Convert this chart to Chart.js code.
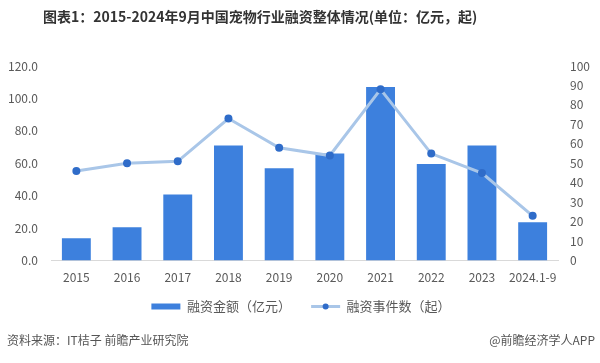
<!DOCTYPE html>
<html>
<head>
<meta charset="utf-8">
<script src="https://cdn.jsdelivr.net/npm/chart.js@4.4.0/dist/chart.umd.min.js"></script>
<style>
  body { margin: 0; background: #fff; }
  #wrap { position: relative; width: 600px; height: 363px; font-family: "Noto Sans CJK SC", sans-serif; }
  #title { position: absolute; left: 43px; top: 6px; font-size: 14px; font-weight: bold; color: #333; white-space: nowrap; }
  #source { position: absolute; left: 7px; top: 331px; font-size: 12px; color: #555; }
  #brand { position: absolute; right: 5px; top: 331px; font-size: 12px; color: #555; }
  #box { position: absolute; left: 0; top: 0; width: 600px; height: 363px; }
</style>
</head>
<body>
<div id="wrap">
  <div id="box"><canvas id="finChart"></canvas></div>
  <div id="title">图表1：2015-2024年9月中国宠物行业融资整体情况(单位：亿元，起)</div>
  <div id="source">资料来源：IT桔子 前瞻产业研究院</div>
  <div id="brand">@前瞻经济学人APP</div>
</div>
<script>
// ------- data -------
const years = ['2015', '2016', '2017', '2018', '2019', '2020', '2021', '2022', '2023', '2024.1-9'];
const amount = [13.8, 20.6, 40.8, 71.0, 57.0, 66.0, 107.0, 59.6, 71.0, 23.6];   // 亿元
const events = [46, 50, 51, 73, 58, 54, 88, 55, 45, 23];                          // 起

const fontFamily = '"Noto Sans CJK SC", sans-serif';
Chart.defaults.font.family = fontFamily;
Chart.defaults.color = '#595959';

const data = {
  labels: years,
  datasets: [
    {
      type: 'line',
      label: '融资事件数（起）',
      data: events,
      yAxisID: 'y1',
      borderColor: '#a9c6e8',
      backgroundColor: '#2f6cc9',
      borderWidth: 3,
      pointRadius: 4,
      pointBorderWidth: 0,
      pointBackgroundColor: '#2f6cc9',
      order: 0
    },
    {
      type: 'bar',
      label: '融资金额（亿元）',
      data: amount,
      yAxisID: 'y',
      backgroundColor: '#3d80dd',
      barPercentage: 0.57,
      categoryPercentage: 1.0,
      order: 1
    }
  ]
};

const config = {
  data: data,
  options: {
    responsive: true,
    maintainAspectRatio: false,
    animation: false,
    layout: {
      padding: { top: 66, left: 8, right: 6, bottom: 40 }
    },
    scales: {
      x: {
        grid: { display: false, drawTicks: false },
        border: { color: '#d9d9d9', width: 1 },
        ticks: { padding: 10, maxRotation: 0, minRotation: 0, autoSkip: false, font: { size: 12 } }
      },
      y: {
        position: 'left',
        min: 0,
        max: 120,
        grid: { display: false, drawTicks: false },
        border: { display: false },
        ticks: {
          stepSize: 20,
          padding: 13,
          autoSkip: false,
          font: { size: 12 },
          callback: v => v.toFixed(1)
        },
        afterFit: function (scale) { scale.width = 43; }
      },
      y1: {
        position: 'right',
        min: 0,
        max: 100,
        grid: { display: false, drawTicks: false },
        border: { display: false },
        ticks: { stepSize: 10, padding: 12, autoSkip: false, font: { size: 12 } },
        afterFit: function (scale) { scale.width = 36; }
      }
    },
    plugins: {
      legend: {
        position: 'bottom',
        reverse: true,
        labels: {
          font: { size: 13 },
          color: '#595959',
          padding: 5,
          boxWidth: 29,
          boxHeight: 6,
          generateLabels: function (chart) {
            return chart.data.datasets.map(function (ds, i) {
              const isBar = ds.type === 'bar';
              return {
                // trailing spaces widen the gap between the two items
                text: isBar ? ds.label + '\u3000   ' : ds.label,
                datasetIndex: i,
                fillStyle: isBar ? ds.backgroundColor : 'rgba(0,0,0,0)',
                strokeStyle: isBar ? ds.backgroundColor : 'rgba(0,0,0,0)',
                lineWidth: 0,
                fontColor: '#595959'
              };
            });
          }
        }
      },
      tooltip: { enabled: false }
    }
  }
};

// legend marker for the line: line with a dot in the middle
const legendLine = {
  id: 'legendLine',
  afterDraw(chart) {
    const lg = chart.legend;
    if (!lg || !lg.legendHitBoxes) return;
    const ctx = chart.ctx;
    lg.legendItems.forEach(function (item, i) {
      const ds = chart.data.datasets[item.datasetIndex];
      if (ds.type !== 'line') return;
      const hb = lg.legendHitBoxes[i];
      const y = hb.top + hb.height / 2;
      ctx.save();
      ctx.strokeStyle = ds.borderColor;
      ctx.lineWidth = 3;
      ctx.beginPath();
      ctx.moveTo(hb.left, y);
      ctx.lineTo(hb.left + 29, y);
      ctx.stroke();
      ctx.fillStyle = ds.pointBackgroundColor;
      ctx.beginPath();
      ctx.arc(hb.left + 14.5, y, 3, 0, Math.PI * 2);
      ctx.fill();
      ctx.restore();
    });
  }
};

config.plugins = [legendLine];
const myChart = new Chart(document.getElementById('finChart'), config);
</script>
</body>
</html>
